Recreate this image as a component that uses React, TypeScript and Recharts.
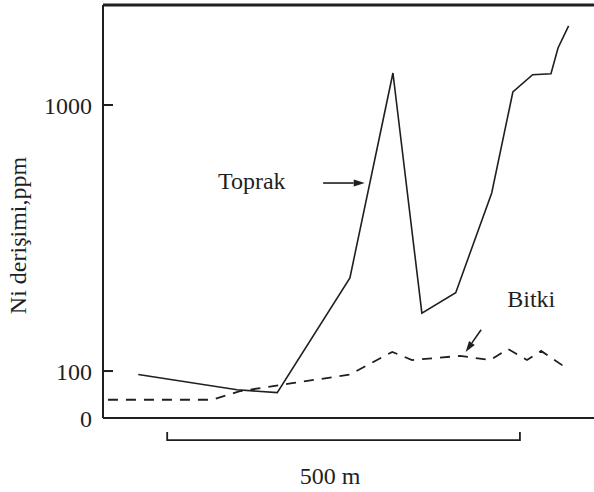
import { LineChart, Line, XAxis, YAxis, ReferenceLine, ReferenceDot } from "recharts";

// distance along the profile (m) and Ni concentration (ppm)
const toprakDistance = [-41, 99, 156, 259, 320, 361, 409, 460, 490, 518, 544, 554, 569];
const toprakNi = [97, 85, 83, 224, 1319, 165, 197, 467, 1119, 1300, 1310, 1638, 1982];

const bitkiDistance = [-84, 64, 103, 177, 259, 319, 347, 415, 458, 483, 510, 530, 565];
const bitkiNi = [78, 78, 84, 90, 97, 118, 110, 114, 110, 121, 110, 119, 103];

// broken log axis: the bottom of the frame is labelled "0"
const Y_FLOOR = 66.6;
const Y_TOP = 2376;
const yTicks = [Y_FLOOR, 100, 1000];
const yTickLabels = ["0", "100", "1000"];

const X_MIN = -91;
const X_MAX = 605;
const scaleBar = [0, 500];
const scaleBarLabel = "500 m";

const toprak = toprakDistance.map((d, i) => ({ d, ni: toprakNi[i] }));
const bitki = bitkiDistance.map((d, i) => ({ d, ni: bitkiNi[i] }));

const INK = "#1f1f1f";
const FONT = "'Liberation Serif', 'DejaVu Serif', serif";

const Arrow = (p: any) => {
  const { x1, y1, x2, y2 } = p;
  const a = Math.atan2(y2 - y1, x2 - x1);
  const len = 11;
  const w = 3.5;
  const bx = x2 - len * Math.cos(a);
  const by = y2 - len * Math.sin(a);
  const nx = -Math.sin(a) * w;
  const ny = Math.cos(a) * w;
  return (
    <g>
      <line x1={x1} y1={y1} x2={bx} y2={by} stroke={INK} strokeWidth={1.6} />
      <polygon points={`${x2},${y2} ${bx + nx},${by + ny} ${bx - nx},${by - ny}`} fill={INK} />
    </g>
  );
};

const Bracket = (p: any) => {
  const { x1, y1, x2, y2 } = p;
  return (
    <path
      d={`M${x1},${y1 - 8} L${x1},${y1} L${x2},${y2} L${x2},${y2 - 8}`}
      fill="none"
      stroke={INK}
      strokeWidth={1.8}
    />
  );
};

const note = (text: string) => (p: any) => (
  <text x={p.cx} y={p.cy} fontFamily={FONT} fontSize={24} fill={INK}>
    {text}
  </text>
);

const YTitle = (p: any) => {
  const vb = p.viewBox || { x: 0, y: 0, width: 0, height: 0 };
  const cx = vb.x + 18;
  const cy = vb.y + vb.height / 2 + 24;
  return (
    <text
      x={cx}
      y={cy}
      transform={`rotate(-90, ${cx}, ${cy})`}
      textAnchor="middle"
      dominantBaseline="central"
      fontFamily={FONT}
      fontSize={24}
      fill={INK}
    >
      Ni derişimi,ppm
    </text>
  );
};

export default function App() {
  return (
    <div style={{ position: "absolute", left: 0, top: 0, background: "#fff" }}>
      <LineChart width={594} height={492} margin={{ top: 5, right: 0, bottom: 0, left: 0 }}>
        <XAxis
          dataKey="d"
          type="number"
          domain={[X_MIN, X_MAX]}
          allowDataOverflow
          tick={false}
          tickLine={false}
          height={74}
          axisLine={{ stroke: INK, strokeWidth: 2 }}
        />
        <YAxis
          type="number"
          scale="log"
          domain={[Y_FLOOR, Y_TOP]}
          allowDataOverflow
          ticks={yTicks}
          tickFormatter={(v: number) => yTickLabels[yTicks.indexOf(v)] ?? ""}
          width={103}
          tickSize={-10}
          tickMargin={21}
          tickLine={{ stroke: INK, strokeWidth: 2 }}
          axisLine={{ stroke: INK, strokeWidth: 2 }}
          tick={{ fill: INK, fontFamily: FONT, fontSize: 24 }}
          label={{ content: YTitle }}
        />
        <ReferenceLine y={Y_TOP} stroke={INK} strokeWidth={3} ifOverflow="visible" />
        <Line
          data={toprak}
          dataKey="ni"
          type="linear"
          stroke={INK}
          strokeWidth={1.6}
          dot={false}
          isAnimationActive={false}
        />
        <Line
          data={bitki}
          dataKey="ni"
          type="linear"
          stroke={INK}
          strokeWidth={1.8}
          strokeDasharray="10 8"
          dot={false}
          isAnimationActive={false}
        />
        <ReferenceLine
          segment={[{ x: 221, y: 509 }, { x: 280, y: 509 }]}
          shape={Arrow}
          ifOverflow="visible"
        />
        <ReferenceLine
          segment={[{ x: 445, y: 143 }, { x: 423, y: 118 }]}
          shape={Arrow}
          ifOverflow="visible"
        />
        <ReferenceLine
          segment={[{ x: scaleBar[0], y: 55 }, { x: scaleBar[1], y: 55 }]}
          shape={Bracket}
          ifOverflow="visible"
        />
        <ReferenceDot x={72} y={483} r={0} shape={note("Toprak")} ifOverflow="visible" />
        <ReferenceDot x={482} y={174} r={0} shape={note("Bitki")} ifOverflow="visible" />
        <ReferenceDot x={188} y={37.6} r={0} shape={note(scaleBarLabel)} ifOverflow="visible" />
      </LineChart>
    </div>
  );
}
